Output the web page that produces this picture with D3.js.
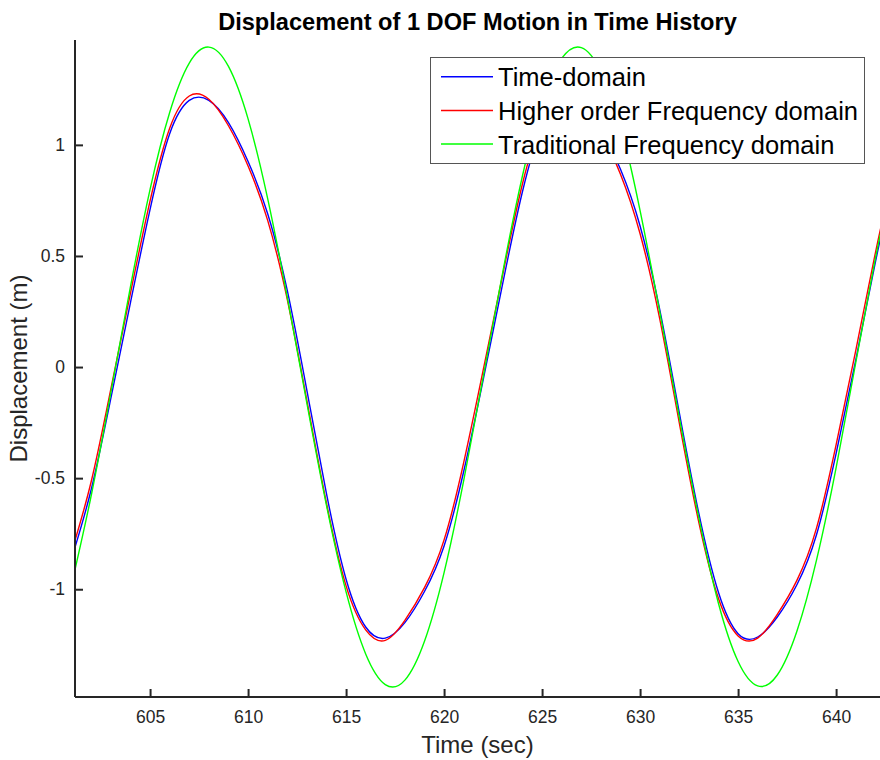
<!DOCTYPE html>
<html>
<head>
<meta charset="utf-8">
<script src="https://cdn.jsdelivr.net/npm/d3@7"></script>
<style>
  html, body { margin: 0; padding: 0; background: #ffffff; }
  svg { display: block; }
  text { font-family: Arial, "Liberation Sans", Helvetica, sans-serif; }
</style>
</head>
<body>
<svg id="chart" width="880" height="760"></svg>
<script>
// ---- data ----
const time = [601,602,603,604,605,606,607,608,609,610,611,612,613,614,615,616,617,618,619,620,621,622,623,624,625,626,627,628,629,630,631,632,633,634,635,636,637,638,639,640,641,642,643];
const timeDomain = [-0.86,-0.55,-0.14,0.29,0.71,1.05,1.20,1.20,1.10,0.925,0.69,0.345,-0.105,-0.57,-0.955,-1.17,-1.22,-1.15,-1.01,-0.805,-0.47,-0.055,0.38,0.79,1.085,1.21,1.19,1.07,0.89,0.635,0.26,-0.205,-0.66,-1.015,-1.20,-1.215,-1.125,-0.98,-0.755,-0.39,0.03,0.47,0.87];
const higherOrder = [-0.83,-0.514,-0.098,0.333,0.748,1.075,1.22,1.205,1.086,0.905,0.66,0.305,-0.151,-0.613,-0.985,-1.183,-1.23,-1.14,-0.993,-0.778,-0.43,-0.012,0.42,0.825,1.106,1.22,1.183,1.055,0.868,0.60,0.218,-0.251,-0.70,-1.042,-1.21,-1.22,-1.113,-0.96,-0.725,-0.35,0.073,0.512,0.91];
const traditional = [-0.977,-0.577,-0.114,0.362,0.80,1.146,1.368,1.44,1.353,1.117,0.758,0.315,-0.162,-0.622,-1.012,-1.291,-1.429,-1.409,-1.234,-0.925,-0.511,-0.042,0.43,0.861,1.193,1.389,1.438,1.332,1.087,0.704,0.25,-0.226,-0.68,-1.064,-1.325,-1.435,-1.386,-1.189,-0.869,-0.454,0.019,0.487,0.915];
const seriesNames = ["Time-domain", "Higher order Frequency domain", "Traditional Frequency domain"];
const seriesColors = ["#0000ff", "#ff0000", "#00ff00"];
const xTicks = [605,610,615,620,625,630,635,640];
const yTicks = [-1,-0.5,0,0.5,1];
const yTickLabels = ["-1","-0.5","0","0.5","1"];
const titleText = "Displacement of 1 DOF Motion in Time History";
const xLabelText = "Time (sec)";
const yLabelText = "Displacement (m)";

// ---- layout ----
const svg = d3.select("#chart");
const mLeft = 75, mRight = 880, mTop = 40, mBottom = 697;
const x = d3.scaleLinear().domain([601.17, 642.24]).range([mLeft, mRight]);
const y = d3.scaleLinear().domain([-1.485, 1.472]).range([mBottom, mTop]);
const axisColor = "#262626";

svg.append("defs").append("clipPath").attr("id", "plotclip")
  .append("rect").attr("x", mLeft).attr("y", mTop - 5).attr("width", mRight - mLeft + 5).attr("height", mBottom - mTop + 5);

// lines
const seriesData = [timeDomain, higherOrder, traditional];
const lineGen = d3.line().x(d => x(d[0])).y(d => y(d[1])).curve(d3.curveNatural);
const plot = svg.append("g").attr("clip-path", "url(#plotclip)");
[0, 1, 2].forEach(i => {
  const pts = time.map((t, k) => [t, seriesData[i][k]]);
  plot.append("path").datum(pts)
    .attr("fill", "none")
    .attr("stroke", seriesColors[i])
    .attr("stroke-width", 1.4)
    .attr("d", lineGen);
});

// axes
const xAxis = d3.axisBottom(x).tickValues(xTicks).tickSize(-8).tickSizeOuter(0).tickPadding(14).tickFormat(d3.format("d"));
const gx = svg.append("g").attr("transform", `translate(0,${mBottom})`).call(xAxis);
const yAxis = d3.axisLeft(y).tickValues(yTicks).tickSize(-8).tickSizeOuter(0).tickPadding(10)
  .tickFormat((d, i) => yTickLabels[i]);
const gy = svg.append("g").attr("transform", `translate(${mLeft},0)`).call(yAxis);
[gx, gy].forEach(g => {
  g.select(".domain").attr("stroke", axisColor).attr("stroke-width", 2);
  g.selectAll(".tick line").attr("stroke", axisColor).attr("stroke-width", 2);
  g.selectAll(".tick text").attr("fill", axisColor).style("font-size", "17.5px")
    .style("font-family", "Arial, 'Liberation Sans', sans-serif");
});
gy.select(".domain").attr("d", `M0,${mTop}V${mBottom}`);
gx.select(".domain").attr("d", `M${mLeft},0H${mRight}`);

// title & labels
svg.append("text").attr("x", (mLeft + mRight) / 2).attr("y", 30)
  .attr("text-anchor", "middle").style("font-size", "23.6px").style("font-weight", "bold")
  .attr("fill", "#000").text(titleText);
svg.append("text").attr("x", (mLeft + mRight) / 2).attr("y", 753)
  .attr("text-anchor", "middle").style("font-size", "24px").attr("fill", axisColor).text(xLabelText);
svg.append("text").attr("transform", `translate(27,${(mTop + mBottom) / 2}) rotate(-90)`)
  .attr("text-anchor", "middle").style("font-size", "24px").attr("fill", axisColor).text(yLabelText);

// legend
const lg = svg.append("g");
lg.append("rect").attr("x", 430.5).attr("y", 57.5).attr("width", 434).attr("height", 106)
  .attr("fill", "#fff").attr("stroke", "#555").attr("stroke-width", 1);
seriesNames.forEach((name, i) => {
  const ly = 76.7 + i * 33.7;
  lg.append("line").attr("x1", 441).attr("x2", 493).attr("y1", ly).attr("y2", ly)
    .attr("stroke", seriesColors[i]).attr("stroke-width", 1.5);
  lg.append("text").attr("x", 498).attr("y", ly + 9.5).style("font-size", "25.5px")
    .attr("fill", "#000").text(name);
});
</script>
</body>
</html>
